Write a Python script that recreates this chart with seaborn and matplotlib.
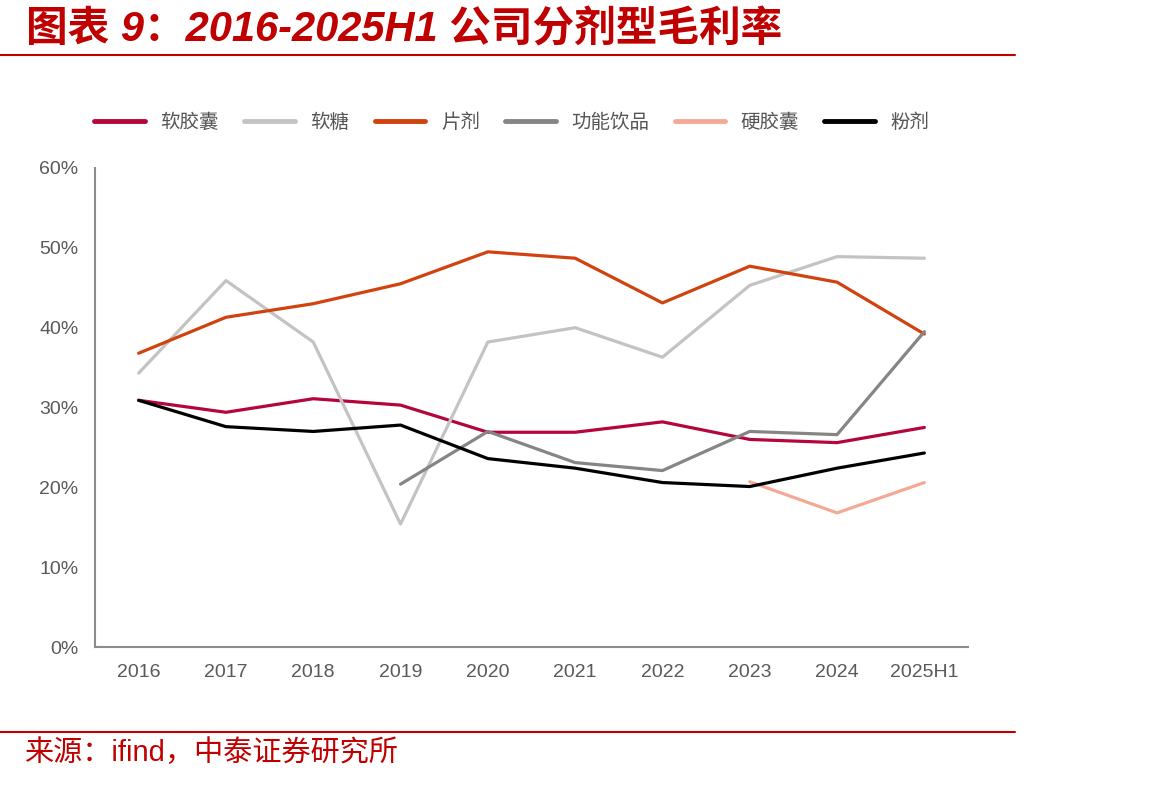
import matplotlib
matplotlib.use("Agg")
import matplotlib.pyplot as plt
from matplotlib.lines import Line2D
import seaborn as sns
import pandas as pd
import numpy as np

# data (%)
years = ["2016", "2017", "2018", "2019", "2020", "2021", "2022", "2023", "2024", "2025H1"]
soft_capsule = [30.9, 29.4, 31.1, 30.3, 26.9, 26.9, 28.2, 26.0, 25.6, 27.5]
gummy = [34.3, 45.9, 38.2, 15.4, 38.2, 40.0, 36.3, 45.3, 48.9, 48.7]
tablet = [36.8, 41.3, 43.0, 45.5, 49.5, 48.7, 43.1, 47.7, 45.7, 39.2]
func_drink = [np.nan, np.nan, np.nan, 20.4, 27.0, 23.1, 22.1, 27.0, 26.6, 39.5]
hard_capsule = [np.nan, np.nan, np.nan, np.nan, np.nan, np.nan, np.nan, 20.7, 16.8, 20.6]
powder = [30.9, 27.6, 27.0, 27.8, 23.6, 22.4, 20.6, 20.1, 22.4, 24.3]

series = {
    "软胶囊": soft_capsule,
    "软糖": gummy,
    "片剂": tablet,
    "功能饮品": func_drink,
    "硬胶囊": hard_capsule,
    "粉剂": powder,
}
colors = {
    "软胶囊": "#B5063C",
    "软糖": "#C3C3C3",
    "片剂": "#D1420F",
    "功能饮品": "#858585",
    "硬胶囊": "#F4A997",
    "粉剂": "#000000",
}

df = pd.DataFrame(series, index=years).reset_index(names="year")
long_df = df.melt(id_vars="year", var_name="type", value_name="margin").dropna()

sns.set_style("white")
plt.rcParams["font.family"] = ["Liberation Sans", "Noto Sans CJK SC", "DejaVu Sans"]

fig = plt.figure(figsize=(11.7, 7.85), dpi=100)
ax = fig.add_axes([95 / 1170, 1 - 647 / 785, (968 - 95) / 1170, (647 - 168) / 785])

sns.lineplot(data=long_df, x="year", y="margin", hue="type", palette=colors,
             hue_order=list(series.keys()), linewidth=2.3, sort=False, ax=ax,
             legend=False)

ax.set_xlim(-0.5, len(years) - 0.5)
ax.set_ylim(0, 60)
ax.set_yticks(range(0, 61, 10))
ax.set_yticklabels([f"{v}%" for v in range(0, 61, 10)])
ax.set_xticks(range(len(years)))
ax.set_xticklabels(years)
ax.set_xticks(np.arange(-0.5, len(years)), minor=True)
ax.set_xlabel("")
ax.set_ylabel("")

for s in ["top", "right"]:
    ax.spines[s].set_visible(False)
for s in ["left", "bottom"]:
    ax.spines[s].set_color("#8C8C8C")
    ax.spines[s].set_linewidth(1.5)

ax.tick_params(axis="x", which="major", length=0, pad=12, labelsize=14, labelcolor="#595959")
ax.tick_params(axis="x", which="minor", length=6, width=1.2, color="#8C8C8C", direction="out")
ax.tick_params(axis="y", length=6, width=1.2, color="#8C8C8C", direction="out",
               pad=6, labelsize=14, labelcolor="#595959")

# legend along the top
handles = [Line2D([0], [0], color=colors[k], lw=3.5) for k in series]
fig.legend(handles, list(series.keys()), loc="center", bbox_to_anchor=(512 / 1170, 1 - 122 / 785),
           ncol=6, frameon=False, handlelength=2.6, columnspacing=1.3, handletextpad=0.8,
           prop={"family": ["Noto Sans CJK SC"], "size": 14}, labelcolor="#555555")

# title and source
red = "#C00000"
fig.text(26 / 1170, 1 - 30 / 785, "图表 9：2016-2025H1 公司分剂型毛利率", color=red,
         fontsize=30, fontweight="bold", fontstyle="italic", va="center", ha="left",
         family=["Liberation Sans", "Noto Sans CJK SC"])
fig.add_artist(Line2D([0, 1015 / 1170], [1 - 55 / 785] * 2, color=red, lw=1.5))
fig.add_artist(Line2D([0, 1015 / 1170], [1 - 732 / 785] * 2, color=red, lw=1.5))
fig.text(24 / 1170, 1 - 753 / 785, "来源：ifind，中泰证券研究所", color=red, fontsize=21,
         va="center", ha="left", family=["Liberation Sans", "Noto Sans CJK SC"])

fig.savefig("out.png", dpi=100)
